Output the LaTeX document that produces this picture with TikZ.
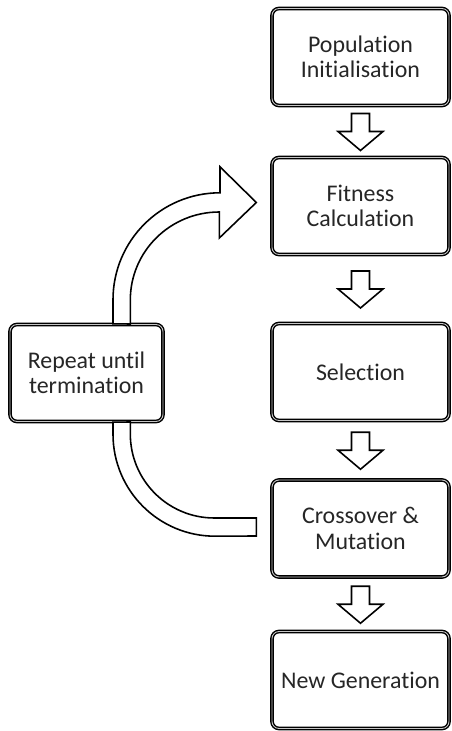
\documentclass[tikz,border=0pt]{standalone}
\usepackage{fontspec}
\setmainfont{Carlito}[Ligatures=NoCommon]
\usetikzlibrary{calc}
\tikzset{
  stagebox/.style={draw, fill=white, rounded corners=4pt, line width=0.8pt,
    double=gray!45, double distance=0.5pt, minimum width=3.54cm,
    minimum height=1.94cm, align=center, text=black!85,
    font=\fontsize{13.6}{14.5}\selectfont},
  blockarrow/.style={draw, fill=white, line width=0.9pt, line join=miter}
}
\newcommand\blockdown[2]{%
  \draw[blockarrow] ($(#1.south)!0.5!(#2.north)$) ++(-9,18) -- ++(18,0) -- ++(0,-18)
    -- ++(13.5,0) -- ++(-22.5,-19) -- ++(-22.5,19) -- ++(13.5,0) -- cycle;}

\begin{document}
\begin{tikzpicture}[x=0.02cm,y=0.02cm]
\useasboundingbox (0,0) rectangle (451,731);
\node[stagebox] (pop) at (360.5,674) {Population\\Initialisation};
\node[stagebox] (fit) at (360.5,525) {Fitness\\Calculation};
\node[stagebox] (sel) at (360.5,359) {Selection};
\node[stagebox] (cross) at (360.5,202.5) {Crossover \&\\Mutation};
\node[stagebox] (new) at (360.5,51) {New Generation};
\node[stagebox, minimum width=3.06cm] (rep) at (86.5,358) {Repeat until\\termination};

\blockdown{pop}{fit}
\blockdown{fit}{sel}
\blockdown{sel}{cross}
\blockdown{cross}{new}

\draw[blockarrow] ($(rep.north)+(26.5,0)$) -- ++(0,24)
  arc[start angle=180, end angle=90, radius=107] -- ++(0,26)
  -- ($(fit.west)+(-15,3.5)$) -- ++(-37,-35.5) -- ++(0,26)
  arc[start angle=90, end angle=180, x radius=89, y radius=88] -- ++(0,-24) -- cycle;
\draw[blockarrow] ($(rep.south)+(26.5,0)$) -- ++(0,-12)
  arc[start angle=180, end angle=270, radius=102]
  -- ($(cross.west)+(-15,-7.5)$) -- ++(0,18) -- ++(-42,0)
  arc[start angle=270, end angle=180, radius=84] -- ++(0,12) -- cycle;
\end{tikzpicture}
\end{document}
